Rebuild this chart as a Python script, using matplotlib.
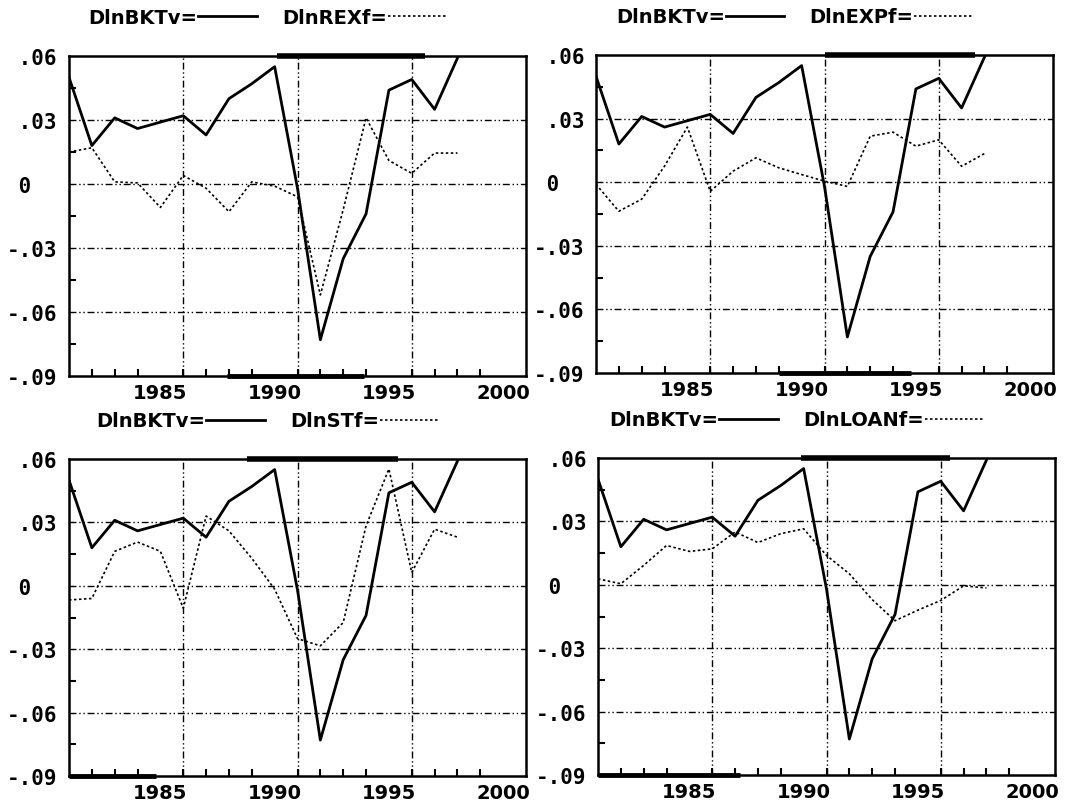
import matplotlib
matplotlib.use("Agg")
import matplotlib.pyplot as plt

plt.rcParams['font.family'] = ['DejaVu Sans']
plt.rcParams['font.weight'] = 'bold'

years = list(range(1981, 1999))
bktv = [0.050, 0.018, 0.031, 0.026, 0.029, 0.032, 0.023, 0.040, 0.047, 0.055,
        -0.002, -0.073, -0.035, -0.014, 0.044, 0.049, 0.035, 0.059]
rexf = [0.015, 0.017, 0.001, 0.0005, -0.011, 0.004, -0.002, -0.013, 0.001, -0.001,
        -0.006, -0.052, -0.012, 0.031, 0.011, 0.005, 0.0145, 0.0145]
expf = [-0.001, -0.0137, -0.008, 0.0076, 0.026, -0.0043, 0.0052, 0.0115, 0.0068, 0.0036,
        0.0005, -0.002, 0.0217, 0.0236, 0.017, 0.020, 0.0075, 0.0135]
stf = [-0.0067, -0.006, 0.0163, 0.0207, 0.0163, -0.0106, 0.033, 0.026, 0.013, -0.0016,
       -0.025, -0.0284, -0.0174, 0.0284, 0.0553, 0.0063, 0.0268, 0.023]
loanf = [0.0028, 0.0005, 0.0092, 0.0186, 0.0158, 0.017, 0.025, 0.020, 0.0242, 0.0265,
         0.0139, 0.0052, -0.007, -0.017, -0.012, -0.0074, -0.0005, -0.0015]

second_names = ['DlnREXf=', 'DlnEXPf=', 'DlnSTf=', 'DlnLOANf=']
second_series = [rexf, expf, stf, loanf]

xtick_years = [1985, 1990, 1995, 2000]
xtick_labels = ['1985', '1990', '1995', '2000']
xgrid_years = [1986, 1991, 1996]
yticks = [0.06, 0.03, 0.0, -0.03, -0.06, -0.09]
ytick_labels = [' .06', ' .03', ' 0', '-.03', '-.06', '-.09']
yminor = [0.045, 0.015, -0.015, -0.045, -0.075]

# thick smudges along the frame in the scanned original
top_bars = [(1990.1, 1996.6), (1991.0, 1997.6), (1988.8, 1995.4), (1989.9, 1996.4)]
bottom_bars = [(1987.9, 1993.9), (1989.0, 1994.8), (1981.0, 1984.8), (1981.0, 1987.2)]

# axes boxes in pixels: left, top, right, bottom
W, H = 1073, 804
boxes = [(69, 57, 526, 377), (596, 56, 1053, 374),
         (69, 460, 526, 777), (598, 459, 1055, 776)]

fig = plt.figure(figsize=(W / 100, H / 100), dpi=100)
grid_ls = (0, (5, 2, 1, 2, 1, 2))

for i, (l, t, r, b) in enumerate(boxes):
    ax = fig.add_axes([l / W, (H - b) / H, (r - l) / W, (b - t) / H])
    ax.set_xlim(1981, 2001)
    ax.set_ylim(-0.09, 0.06)

    for y in yticks[1:-1]:
        ax.axhline(y, color='black', lw=1.0, ls=grid_ls, zorder=1)
    for x in xgrid_years:
        ax.axvline(x, color='black', lw=1.0, ls=grid_ls, zorder=1)

    ax.plot(years, bktv, color='black', lw=2.0, label='DlnBKTv=', zorder=3)
    ax.plot(years, second_series[i], color='black', lw=1.2, ls=(0, (1.5, 1.5)),
            label=second_names[i], zorder=2)

    ax.hlines(0.06, *top_bars[i], color='black', lw=4, zorder=4, clip_on=False)
    ax.hlines(-0.09, *bottom_bars[i], color='black', lw=3.5, zorder=4, clip_on=False)

    for s in ax.spines.values():
        s.set_linewidth(1.8)

    ax.set_xticks(xtick_years, xtick_labels)
    ax.set_xticks(range(1982, 2001), minor=True)
    ax.set_yticks(yticks, ytick_labels)
    ax.set_yticks(yminor, minor=True)
    ax.tick_params(axis='x', which='major', length=0, pad=5, labelsize=14)
    ax.tick_params(axis='y', which='major', length=0, pad=45)
    ax.tick_params(which='minor', direction='in', length=5, width=1.5)
    for lbl in ax.get_yticklabels():
        lbl.set_horizontalalignment('left')
        lbl.set_fontfamily('DejaVu Sans Mono')
        lbl.set_fontsize(15)

    ax.legend(ncol=2, markerfirst=False, frameon=False, loc='center',
              bbox_to_anchor=(0.434, 1.12), handlelength=3.0, handletextpad=0.05,
              columnspacing=1.3, prop={'family': 'DejaVu Sans', 'weight': 'bold', 'size': 14})

fig.savefig('out.png', dpi=100)
